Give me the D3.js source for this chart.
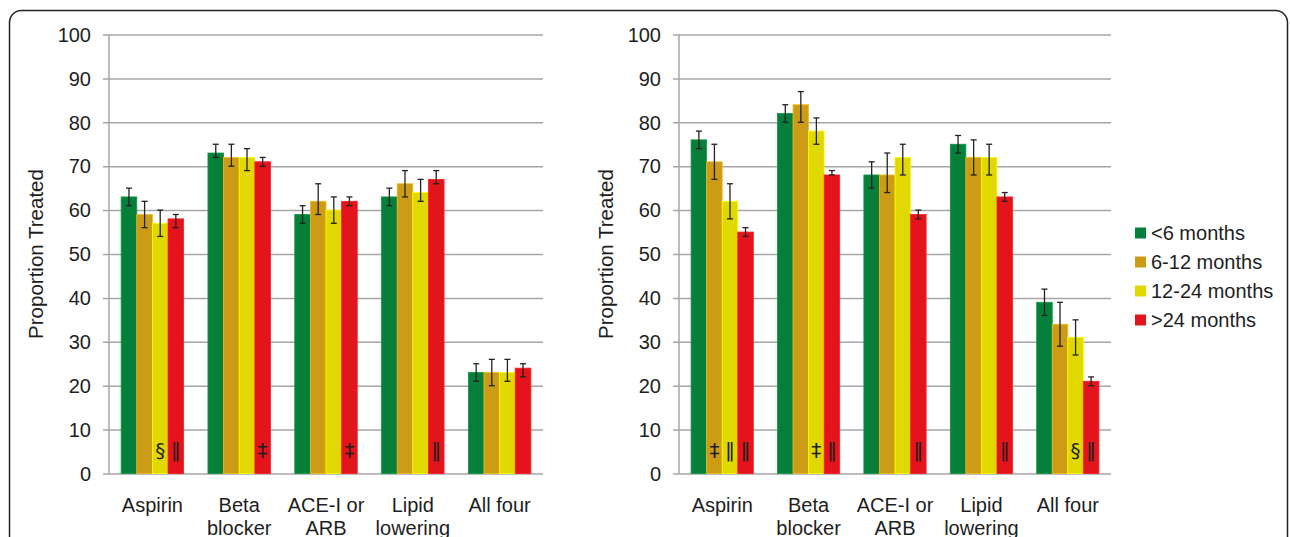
<!DOCTYPE html>
<html>
<head>
<meta charset="utf-8">
<script src="https://cdn.jsdelivr.net/npm/d3@7"></script>
<style>
  body { margin: 0; background: #fff; }
  text { font-family: "Liberation Sans", Arial, sans-serif; fill: #1e1e1e; }
</style>
</head>
<body>
<div id="chart"></div>
<script>
// Data
var categories = [["Aspirin"], ["Beta", "blocker"], ["ACE-I or", "ARB"], ["Lipid", "lowering"], ["All four"]]
var seriesNames = ["<6 months", "6-12 months", "12-24 months", ">24 months"]
var seriesColors = ["#067f3b", "#cc9c17", "#e0d800", "#e3141c"]
var yTicks = [0, 10, 20, 30, 40, 50, 60, 70, 80, 90, 100]

// left panel: values, error low, error high (per category, per series)
var leftValues = [[63, 59, 57, 58], [73, 72, 72, 71], [59, 62, 60, 62], [63, 66, 64, 67], [23, 23, 23, 24]]
var leftLow = [[61, 56, 54, 56], [72, 70, 69, 70], [57, 59, 57, 61], [61, 63, 62, 66], [21, 20, 21, 22]]
var leftHigh = [[65, 62, 60, 59], [75, 75, 74, 72], [61, 66, 63, 63], [65, 69, 67, 69], [25, 26, 26, 25]]
var leftMarks = [["", "", "§", "‖"], ["", "", "", "‡"], ["", "", "", "‡"], ["", "", "", "‖"], ["", "", "", ""]]

// right panel
var rightValues = [[76, 71, 62, 55], [82, 84, 78, 68], [68, 68, 72, 59], [75, 72, 72, 63], [39, 34, 31, 21]]
var rightLow = [[74, 67, 58, 54], [80, 80, 75, 68], [65, 64, 68, 58], [73, 68, 68, 62], [36, 29, 27, 20]]
var rightHigh = [[78, 75, 66, 56], [84, 87, 81, 69], [71, 73, 75, 60], [77, 76, 75, 64], [42, 39, 35, 22]]
var rightMarks = [["", "‡", "‖", "‖"], ["", "", "‡", "‖"], ["", "", "", "‖"], ["", "", "", "‖"], ["", "", "§", "‖"]]

var width = 1290
var height = 537
var plotTop = 34.5
var plotBottom = 473.5

var svg = d3.select("#chart")
  .append("svg")
  .attr("width", width)
  .attr("height", height)

// outer rounded frame
svg.append("rect")
  .attr("x", 9.5)
  .attr("y", 10.5)
  .attr("width", 1278)
  .attr("height", 560)
  .attr("rx", 12)
  .attr("fill", "none")
  .attr("stroke", "#222")
  .attr("stroke-width", 1.5)

function drawPanel(left, right, titleX, values, low, high, marks) {
  var g = svg.append("g")

  var yScale = d3.scaleLinear()
    .domain([0, 100])
    .range([plotBottom, plotTop])

  var xScale = d3.scaleBand()
    .domain(d3.range(categories.length))
    .range([left, right])
    .paddingInner(0.28)
    .paddingOuter(0.14)

  var xInner = d3.scaleBand()
    .domain(d3.range(seriesNames.length))
    .range([0, xScale.bandwidth()])

  // Y grid (ticks stick out 6px left of the axis)
  g.append("g")
    .attr("class", "grid")
    .attr("transform", `translate(${left - 6},0)`)
    .call(d3.axisRight(yScale).tickValues(yTicks).tickSize(right - left + 6).tickFormat(""))
    .call(a => a.select(".domain").remove())
    .selectAll("line")
    .attr("stroke", "#a6a6a6")
    .attr("stroke-width", 1.5)

  // Y axis line
  g.append("line")
    .attr("x1", left).attr("x2", left)
    .attr("y1", yScale(100)).attr("y2", yScale(0))
    .attr("stroke", "#a6a6a6")
    .attr("stroke-width", 1.5)

  // Y tick labels
  g.selectAll(".ylab")
    .data(yTicks)
    .enter()
    .append("text")
    .attr("x", left - 18)
    .attr("y", d => yScale(d))
    .attr("dy", "0.36em")
    .attr("text-anchor", "end")
    .style("font-size", "20px")
    .text(d => d)

  // Y title
  g.append("text")
    .attr("transform", `translate(${titleX},${(plotTop + plotBottom) / 2}) rotate(-90)`)
    .attr("text-anchor", "middle")
    .attr("dy", "0.36em")
    .style("font-size", "20.5px")
    .text("Proportion Treated")

  // bars
  var groups = g.selectAll(".cat")
    .data(categories)
    .enter()
    .append("g")
    .attr("transform", (d, i) => `translate(${xScale(i)},0)`)

  groups.each(function(cat, ci) {
    var cg = d3.select(this)
    var rows = seriesNames.map((s, si) => ({ si: si, v: values[ci][si], lo: low[ci][si], hi: high[ci][si], m: marks[ci][si] }))

    cg.selectAll("rect")
      .data(rows)
      .enter()
      .append("rect")
      .attr("x", d => xInner(d.si))
      .attr("width", xInner.bandwidth())
      .attr("y", d => yScale(d.v))
      .attr("height", d => yScale(0) - yScale(d.v))
      .attr("fill", d => seriesColors[d.si])
      .attr("stroke", d => d3.color(seriesColors[d.si]).brighter(0.5))
      .attr("stroke-width", 0.8)

    // error bars
    var eb = cg.selectAll(".err")
      .data(rows)
      .enter()
      .append("g")
      .attr("stroke", "#222")
      .attr("stroke-width", 1.3)
    eb.append("line")
      .attr("x1", d => xInner(d.si) + xInner.bandwidth() / 2)
      .attr("x2", d => xInner(d.si) + xInner.bandwidth() / 2)
      .attr("y1", d => yScale(d.lo))
      .attr("y2", d => yScale(d.hi))
    eb.selectAll(".cap")
      .data(d => [d.lo, d.hi].map(v => ({ si: d.si, v: v })))
      .enter()
      .append("line")
      .attr("x1", d => xInner(d.si) + xInner.bandwidth() / 2 - 3)
      .attr("x2", d => xInner(d.si) + xInner.bandwidth() / 2 + 3)
      .attr("y1", d => yScale(d.v))
      .attr("y2", d => yScale(d.v))

    // significance marks
    cg.selectAll(".mark")
      .data(rows.filter(d => d.m))
      .enter()
      .append("text")
      .attr("x", d => xInner(d.si) + xInner.bandwidth() / 2)
      .attr("y", yScale(5.5))
      .attr("dy", "0.36em")
      .attr("text-anchor", "middle")
      .style("font-size", "20px")
      .style("font-family", "'DejaVu Sans', sans-serif")
      .text(d => d.m)

    // category label
    cg.append("text")
      .attr("x", xScale.bandwidth() / 2)
      .attr("y", 512)
      .attr("text-anchor", "middle")
      .style("font-size", "20px")
      .selectAll("tspan")
      .data(cat)
      .enter()
      .append("tspan")
      .attr("x", xScale.bandwidth() / 2)
      .attr("dy", (d, i) => i === 0 ? 0 : 23)
      .text(d => d)
  })
}

drawPanel(109, 543, 36, leftValues, leftLow, leftHigh, leftMarks)
drawPanel(679, 1111, 606, rightValues, rightLow, rightHigh, rightMarks)

// Legend
var legend = svg.append("g")
  .attr("transform", "translate(1135,233)")
var items = legend.selectAll("g")
  .data(seriesNames)
  .enter()
  .append("g")
  .attr("transform", (d, i) => `translate(0,${i * 29})`)
items.append("rect")
  .attr("x", 0)
  .attr("y", -5.5)
  .attr("width", 11)
  .attr("height", 11)
  .attr("fill", (d, i) => seriesColors[i])
items.append("text")
  .attr("x", 16)
  .attr("dy", "0.36em")
  .style("font-size", "20px")
  .text(d => d)
</script>
</body>
</html>
